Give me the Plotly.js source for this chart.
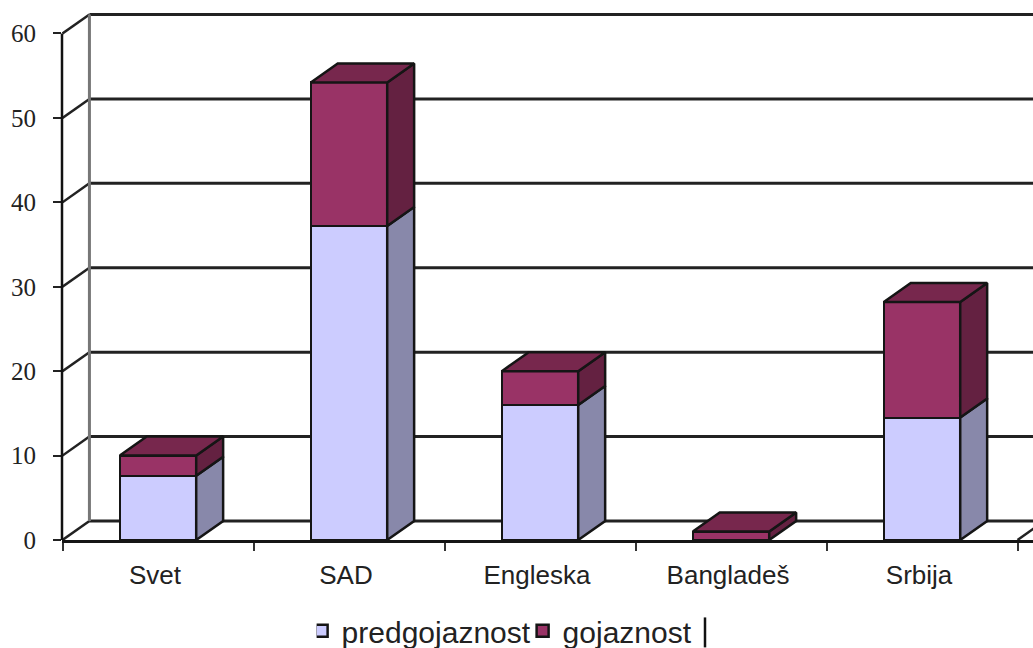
<!DOCTYPE html>
<html>
<head>
<meta charset="utf-8">
<script src="https://cdn.plot.ly/plotly-3.0.1.min.js"></script>
<style>html,body{margin:0;padding:0;background:#fff}</style>
</head>
<body>
<div id="chart" style="width:1033px;height:648px"></div>
<script>
// Prevalence of overweight and obesity by country, stacked pseudo-3D columns
const categories = ['Svet', 'SAD', 'Engleska', 'Bangladeš', 'Srbija'];
const predgojaznost = [7.6, 37.2, 16, 0, 14.5];
const gojaznost = [2.4, 17, 4, 1, 13.7];
const valueTicks = [0, 10, 20, 30, 40, 50, 60];

const BAR_WIDTH = 0.4;
const DEPTH_X = 0.141;   // oblique depth, in category units
const DEPTH_Y = 2.25;    // oblique depth, in value units
const positions = categories.map((_, i) => i);
const INK = '#151515';

function sideFaces(bases, tops) {
  const xs = [], ys = [];
  positions.forEach((p, i) => {
    if (tops[i] <= bases[i]) return;
    const r = p + BAR_WIDTH / 2;
    xs.push(r, r + DEPTH_X, r + DEPTH_X, r, r, null);
    ys.push(bases[i], bases[i] + DEPTH_Y, tops[i] + DEPTH_Y, tops[i], bases[i], null);
  });
  return {x: xs, y: ys};
}

function topFaces(tops) {
  const xs = [], ys = [];
  positions.forEach((p, i) => {
    const l = p - BAR_WIDTH / 2, r = p + BAR_WIDTH / 2;
    xs.push(l, l + DEPTH_X, r + DEPTH_X, r, l, null);
    ys.push(tops[i], tops[i] + DEPTH_Y, tops[i] + DEPTH_Y, tops[i], tops[i], null);
  });
  return {x: xs, y: ys};
}

function faceTrace(face, color) {
  return {
    type: 'scatter', mode: 'lines', x: face.x, y: face.y,
    fill: 'toself', fillcolor: color,
    line: {color: INK, width: 2.5},
    showlegend: false, hoverinfo: 'skip'
  };
}

const totals = predgojaznost.map((v, i) => v + gojaznost[i]);
const zeros = predgojaznost.map(() => 0);

const traces = [
  {type: 'bar', name: 'predgojaznost', x: positions, y: predgojaznost, width: BAR_WIDTH,
   marker: {color: '#CCCCFF', line: {color: INK, width: 2.5}}},
  {type: 'bar', name: 'gojaznost', x: positions, y: gojaznost, width: BAR_WIDTH,
   marker: {color: '#993366', line: {color: INK, width: 2.5}}},
  faceTrace(sideFaces(zeros, predgojaznost), '#8888AA'),
  faceTrace(sideFaces(predgojaznost, totals), '#642141'),
  faceTrace(topFaces(totals), '#77274D')
];

// Back wall, floor and the oblique edges joining them to the value axis
const edgeStart = -0.5, edgeEnd = categories.length - 0.5 + 1;
const shapes = [];
function line(x0, y0, x1, y1, color, width) {
  shapes.push({type: 'line', xref: 'x', yref: 'y', x0, y0, x1, y1,
    line: {color, width}, layer: 'below'});
}
valueTicks.forEach(v => {
  line(edgeStart + DEPTH_X, v + DEPTH_Y, edgeEnd, v + DEPTH_Y, '#222222', 3);
  line(edgeStart, v, edgeStart + DEPTH_X, v + DEPTH_Y, '#222222', 2.5);
});
line(edgeStart + DEPTH_X, DEPTH_Y, edgeStart + DEPTH_X, 60 + DEPTH_Y, '#777777', 3);
line(categories.length - 0.5, 0, categories.length - 0.5 + DEPTH_X, DEPTH_Y, '#222222', 2.5);
// Value axis stops at the last tick, below the top of the wall
shapes.push({type: 'line', xref: 'paper', yref: 'y', x0: 0, x1: 0, y0: 0, y1: 60,
  line: {color: '#111111', width: 2.5}});
// Thin upright stroke to the right of the legend
shapes.push({type: 'line', xref: 'paper', yref: 'paper',
  x0: 643 / 971, x1: 643 / 971, y0: -77.5 / 532.5, y1: -107.5 / 532.5,
  line: {color: '#111111', width: 2.5}});

const layout = {
  width: 1033, height: 648,
  margin: {l: 62, r: 0, t: 8, b: 107.5, pad: 0},
  paper_bgcolor: '#ffffff', plot_bgcolor: '#ffffff',
  barmode: 'stack',
  bargap: 0,
  font: {family: '"Liberation Sans", Arial, sans-serif', color: '#222222'},
  xaxis: {
    type: 'linear', range: [-0.5026, 4.581], fixedrange: true,
    tickmode: 'array', tickvals: positions, ticktext: categories,
    ticks: '', showgrid: false, zeroline: false,
    showline: true, linecolor: INK, linewidth: 2.5,
    ticklabelstandoff: 10, ticklabelshift: -3,
    tickfont: {family: '"Liberation Sans", Arial, sans-serif', size: 26, color: '#222222'},
    minor: {
      tickmode: 'array', tickvals: [-0.5, 0.5, 1.5, 2.5, 3.5, 4.5],
      ticks: 'outside', ticklen: 8, tickwidth: 1.5, tickcolor: '#333333', showgrid: false
    }
  },
  yaxis: {
    range: [0, 63.02], fixedrange: true,
    tickmode: 'array', tickvals: valueTicks,
    ticks: 'outside', ticklen: 8, tickwidth: 2, tickcolor: '#222222',
    showgrid: false, zeroline: false, showline: false,
    ticklabelstandoff: 12,
    tickfont: {family: '"Liberation Serif", "Times New Roman", serif', size: 25, color: '#222222'}
  },
  legend: {
    orientation: 'h', xref: 'container', yref: 'container',
    x: 0.3065, xanchor: 'left', y: 0.0265, yanchor: 'middle',
    indentation: -15, entrywidth: 191,
    font: {family: '"Liberation Sans", Arial, sans-serif', size: 30, color: '#222222'},
    bgcolor: 'rgba(0,0,0,0)', traceorder: 'normal'
  },
  shapes
};

Plotly.newPlot('chart', traces, layout, {displayModeBar: false, responsive: false});
</script>
</body>
</html>
